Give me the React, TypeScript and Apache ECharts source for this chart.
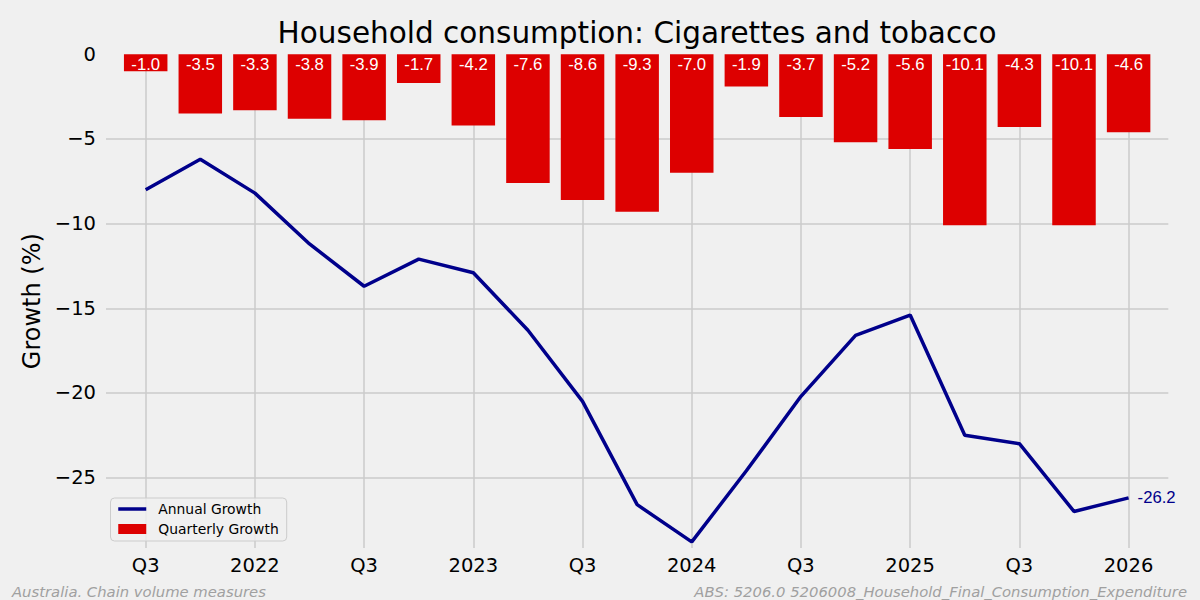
import React, { useEffect, useRef } from "react";
import * as echarts from "echarts";

const quarterIndex: number[] = [0, 1, 2, 3, 4, 5, 6, 7, 8, 9, 10, 11, 12, 13, 14, 15, 16, 17, 18];
const quarterlyGrowth: number[] = [-1.0, -3.5, -3.3, -3.8, -3.9, -1.7, -4.2, -7.6, -8.6, -9.3, -7.0, -1.9, -3.7, -5.2, -5.6, -10.1, -4.3, -10.1, -4.6];
const annualGrowth: number[] = [-8.0, -6.2, -8.2, -11.2, -13.7, -12.1, -12.9, -16.3, -20.5, -26.6, -28.8, -24.6, -20.2, -16.6, -15.4, -22.5, -23.0, -27.0, -26.2];
const xTickLabels: string[] = ["Q3", "2022", "Q3", "2023", "Q3", "2024", "Q3", "2025", "Q3", "2026"];

const TITLE = "Household consumption: Cigarettes and tobacco";
const Y_NAME = "Growth (%)";
const FOOT_LEFT = "Australia. Chain volume measures";
const FOOT_RIGHT = "ABS: 5206.0 5206008_Household_Final_Consumption_Expenditure";

export default function App() {
  const ref = useRef<HTMLDivElement>(null);
  useEffect(() => {
    if (!ref.current) return;
    const chart = echarts.init(ref.current, null, { renderer: "svg" });
    const sans = "DejaVu Sans";
    const yMin = -29.16;
    const yMax = 0;
    const option: any = {
      animation: false,
      backgroundColor: "#f0f0f0",
      grid: [
        { left: 106, right: 31.7, top: 54.3, bottom: 52 },
        { left: 145.7, right: 71.5, top: 54.3, bottom: 52 },
      ],
      xAxis: [
        {
          type: "value",
          gridIndex: 0,
          min: -0.727,
          max: 18.727,
          show: false,
          splitLine: { show: false },
        },
        {
          type: "value",
          gridIndex: 1,
          min: 0,
          max: 18,
          interval: 2,
          axisLine: { show: false },
          axisTick: { show: false },
          axisLabel: {
            margin: 7,
            fontFamily: sans,
            fontSize: 19.5,
            color: "#000",
            formatter: (v: number) => xTickLabels[Math.round(v / 2)] ?? "",
          },
          splitLine: { show: true, lineStyle: { color: "#cbcbcb", width: 1.5 } },
        },
      ],
      yAxis: [
        {
          type: "value",
          gridIndex: 0,
          min: yMin,
          max: yMax,
          splitNumber: 6,
          name: Y_NAME,
          nameLocation: "middle",
          nameGap: 62,
          nameTextStyle: { fontFamily: sans, fontSize: 24, color: "#000" },
          axisLine: { show: false },
          axisTick: { show: false },
          axisLabel: {
            margin: 10,
            fontFamily: sans,
            fontSize: 19.5,
            color: "#000",
            showMinLabel: false,
            formatter: (v: number) => String(v).replace("-", "\u2212"),
          },
          splitLine: { show: true, showMinLine: false, showMaxLine: false, lineStyle: { color: "#cbcbcb", width: 1.5 } },
        },
        {
          type: "value",
          gridIndex: 1,
          min: yMin,
          max: yMax,
          show: false,
          splitLine: { show: false },
        },
      ],
      legend: {
        left: 110.5,
        top: 498,
        orient: "vertical",
        padding: [4, 8, 5, 6],
        itemGap: 6,
        itemWidth: 28,
        itemHeight: 10,
        backgroundColor: "rgba(240,240,240,0.8)",
        borderColor: "#cccccc",
        borderWidth: 1,
        borderRadius: 4,
        textStyle: { fontFamily: sans, fontSize: 13.9, color: "#000", padding: [0, 0, 0, 7] },
        data: [
          { name: "Annual Growth", itemStyle: { opacity: 0 }, lineStyle: { width: 3.5 } },
          { name: "Quarterly Growth", icon: "rect" },
        ],
      },
      series: [
        {
          name: "Quarterly Growth",
          type: "bar",
          xAxisIndex: 0,
          yAxisIndex: 0,
          barWidth: 43.5,
          itemStyle: { color: "#dd0000" },
          data: quarterIndex.map((i) => [i, quarterlyGrowth[i]]),
          label: {
            show: true,
            position: "insideTop",
            distance: 2,
            fontFamily: "Liberation Sans",
            fontSize: 16.7,
            color: "#ffffff",
            formatter: (p: any) => p.value[1].toFixed(1),
          },
          z: 2,
        },
        {
          name: "Annual Growth",
          type: "line",
          xAxisIndex: 0,
          yAxisIndex: 0,
          symbol: "none",
          lineStyle: { color: "#00008b", width: 3.5 },
          itemStyle: { color: "#00008b" },
          data: quarterIndex.map((i) => [i, annualGrowth[i]]),
          endLabel: {
            show: true,
            distance: 9,
            fontFamily: "Liberation Sans",
            fontSize: 16.7,
            color: "#00008b",
            formatter: (p: any) => p.value[1].toFixed(1),
          },
          z: 3,
        },
      ],
      graphic: [
        {
          type: "text",
          x: 637,
          y: 33,
          style: {
            text: TITLE,
            fontFamily: sans,
            fontSize: 29.5,
            fill: "#000",
            textAlign: "center",
            textVerticalAlign: "middle",
          },
        },
        {
          type: "text",
          x: 12,
          y: 591,
          style: {
            text: FOOT_LEFT,
            fontFamily: sans,
            fontStyle: "italic",
            fontSize: 14.8,
            fill: "#a0a0a0",
            textAlign: "left",
            textVerticalAlign: "middle",
          },
        },
        {
          type: "text",
          x: 1187,
          y: 591,
          style: {
            text: FOOT_RIGHT,
            fontFamily: sans,
            fontStyle: "italic",
            fontSize: 14.8,
            fill: "#a0a0a0",
            textAlign: "right",
            textVerticalAlign: "middle",
          },
        },
      ],
    };
    chart.setOption(option);
    return () => chart.dispose();
  }, []);
  return (
    <div
      ref={ref}
      style={{ position: "fixed", left: 0, top: 0, width: 1200, height: 600 }}
    />
  );
}
